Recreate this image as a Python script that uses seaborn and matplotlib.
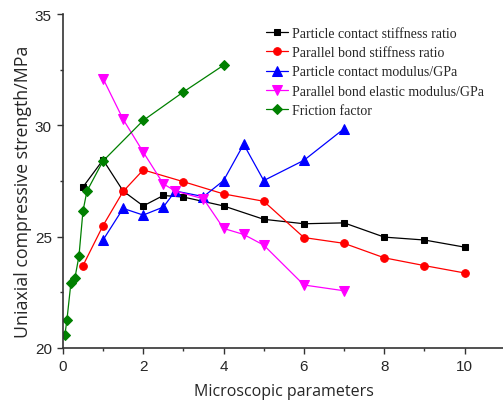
import matplotlib
matplotlib.use("Agg")
import matplotlib.pyplot as plt
import seaborn as sns
from matplotlib.ticker import MultipleLocator

# data
x_pcs = [0.5, 1, 1.5, 2, 2.5, 3, 4, 5, 6, 7, 8, 9, 10]
y_pcs = [27.23, 28.45, 27.05, 26.38, 26.85, 26.78, 26.38, 25.78, 25.58, 25.62, 24.98, 24.85, 24.53]

x_pbs = [0.5, 1, 1.5, 2, 3, 4, 5, 6, 7, 8, 9, 10]
y_pbs = [23.70, 25.50, 27.03, 28.00, 27.47, 26.92, 26.59, 24.96, 24.70, 24.05, 23.70, 23.37]

x_pcm = [1, 1.5, 2, 2.5, 2.8, 3.5, 4, 4.5, 5, 6, 7]
y_pcm = [24.85, 26.27, 25.97, 26.33, 27.05, 26.80, 27.52, 29.15, 27.52, 28.43, 29.85]

x_pbe = [1, 1.5, 2, 2.5, 2.8, 3.5, 4, 4.5, 5, 6, 7]
y_pbe = [32.10, 30.27, 28.80, 27.37, 27.05, 26.70, 25.37, 25.10, 24.62, 22.83, 22.57]

x_fric = [0.05, 0.1, 0.2, 0.3, 0.4, 0.5, 0.6, 1, 2, 3, 4]
y_fric = [20.59, 21.25, 22.92, 23.15, 24.12, 26.15, 27.05, 28.40, 30.22, 31.50, 32.70]

labels = ["Particle contact stiffness ratio", "Parallel bond stiffness ratio",
          "Particle contact modulus/GPa", "Parallel bond elastic modulus/GPa",
          "Friction factor"]

sns.set_style("ticks")
plt.rcParams['font.family'] = ['Liberation Sans', 'DejaVu Sans']

fig = plt.figure(figsize=(5.03, 4.06), dpi=100)
ax = fig.add_axes([0.125, 0.1404, 0.877, 0.8226])

series = [
    (x_pcs, y_pcs, "black", "s", 5),
    (x_pbs, y_pbs, "red", "o", 5.5),
    (x_pcm, y_pcm, "blue", "^", 6.5),
    (x_pbe, y_pbe, "magenta", "v", 6.5),
    (x_fric, y_fric, "#008000", "D", 5),
]
for (xs, ys, c, m, ms), lab in zip(series, labels):
    sns.lineplot(x=xs, y=ys, ax=ax, color=c, marker=m, markersize=ms,
                 markeredgecolor=c, linewidth=0.9, label=lab)

ax.set_xlim(0, 10.98)
ax.set_ylim(20, 35)
ax.set_xticks([0, 2, 4, 6, 8, 10])
ax.set_yticks([20, 25, 30, 35])
ax.xaxis.set_minor_locator(MultipleLocator(1))
ax.yaxis.set_minor_locator(MultipleLocator(2.5))
ax.tick_params(which="major", length=4.5, width=1, labelsize=11, color="#333333")
ax.tick_params(which="minor", length=2.5, width=1, color="#333333")
sns.despine(ax=ax)
for s in ["left", "bottom"]:
    ax.spines[s].set_linewidth(1.2)
    ax.spines[s].set_color("#333333")

ax.set_xlabel("Microscopic parameters", fontsize=11.5, family="Open Sans",
              labelpad=7)
ax.set_ylabel("Uniaxial compressive strength/MPa", fontsize=12.8,
              family="Open Sans")
ax.yaxis.set_label_coords(-0.07, 0.47)

leg = ax.legend(loc="upper left", bbox_to_anchor=(0.448, 0.978), frameon=False,
                prop={"family": "Liberation Serif", "size": 10},
                handlelength=1.6, handletextpad=0.3, labelspacing=0.45,
                borderaxespad=0)

fig.savefig("out.png", dpi=100)
